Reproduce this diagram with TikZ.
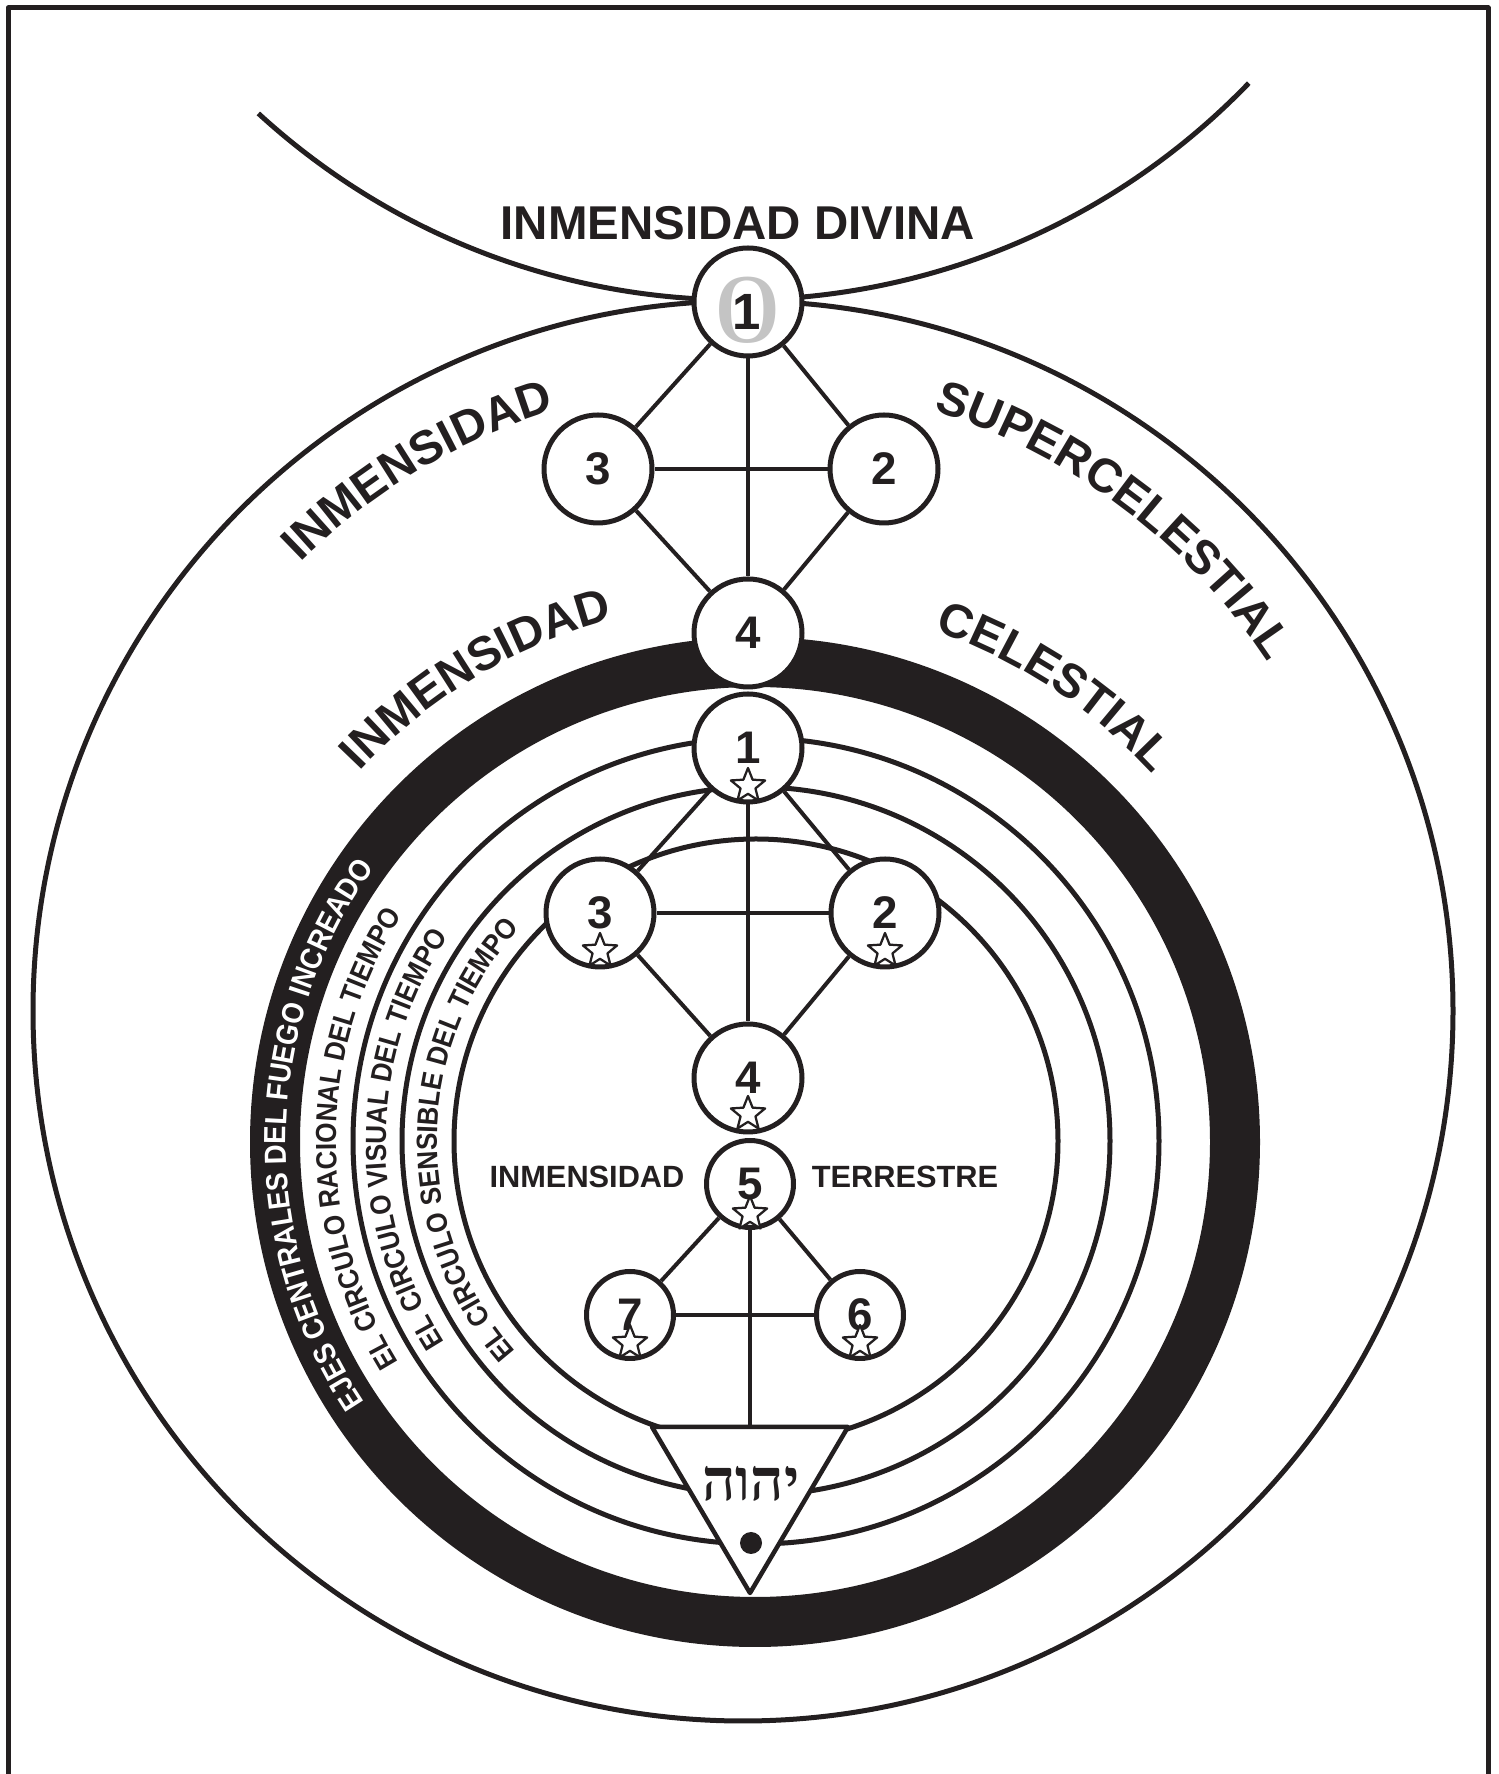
\documentclass[tikz,border=0pt]{standalone}
\usepackage{fontspec}
\usepackage{graphicx}
\setmainfont{Liberation Sans}
\newfontfamily\seriffont{Liberation Serif}
\newfontfamily\hebfont[Script=Hebrew]{Liberation Serif}
\newfontfamily\ringface[FakeStretch=0.9]{Liberation Sans}
\TeXXeTstate=1
\usetikzlibrary{positioning,shapes.geometric,calc,decorations.text}
\definecolor{Ink}{HTML}{231F20}
\definecolor{Ghost}{HTML}{C4C4C4}
\newcommand\headfont{\bfseries\fontsize{27}{27}\selectfont}
\newcommand\ringfont{\ringface\bfseries\fontsize{16.5}{16.5}\selectfont}
\newcommand\firefont{\ringface\bfseries\fontsize{17.4}{17.4}\selectfont}
\tikzset{
  sefira/.style={circle,draw=Ink,line width=1mm,fill=white,minimum size=21.6mm,inner sep=0pt,text=Ink,font=\bfseries\fontsize{26}{26}\selectfont},
  sefirasmall/.style={sefira,minimum size=17.4mm},
  starmark/.style={star,star points=5,star point ratio=2.3,draw=Ink,line width=0.45mm,fill=white,minimum size=7.2mm,inner sep=0pt},
  link/.style={draw=Ink,line width=0.8mm},
  orbit/.style={draw=Ink,line width=1mm},
  plainword/.style={text=Ink,inner sep=0pt,font=\bfseries\fontsize{17.5}{17.5}\selectfont},
}

\begin{document}
\begin{tikzpicture}[x=0.2mm,y=0.2mm,line join=round]
  \useasboundingbox (0,0) rectangle (1498,1774);
  % frame, divine arc and supercelestial circle
  \draw[orbit] (8,0) -- (8,1766) -- (1488,1766) -- (1488,0);
  \draw[orbit] (738,2184) ++(227.5:710) arc[start angle=227.5,end angle=316,radius=710];
  \draw[orbit] (743,763) circle[radius=710];
  % fire ring and the three circles of time
  \draw[Ink,line width=10mm] (755,632) circle[radius=480];
  \foreach \r in {403,354,302}
    \draw[orbit] (756,633) circle[radius=\r];

  % triangle
  \coordinate (tl) at (652,347);
  \coordinate (tr) at (848,347);
  \coordinate (tb) at (750,181);
  \coordinate (tritop) at (750,347);
  \draw[orbit,fill=white,line width=0.9mm] (tl) -- (tr) -- (tb) -- cycle;
  \node[text=Ink,font=\hebfont\bfseries\fontsize{33}{33}\selectfont] (yhwh) at (751,290) {\beginR יהוה\endR};
  \node[circle,fill=Ink,minimum size=4.4mm,inner sep=0pt] (seed) at (751,231) {};

  % sefirot
  \foreach \name/\x/\y/\d in {n3/598/1305/3,n2/884/1305/2,n4/748/1141/4,
      l1/748/1026/1,l3/600/861/3,l2/885/861/2,l4/748/696/4}
    \node[sefira] (\name) at (\x,\y) {\d};
  \foreach \name/\x/\y/\d in {l5/750/590/5,l7/630/459/7,l6/860/459/6}
    \node[sefirasmall] (\name) at (\x,\y) {\d};
  \node[sefira] (n1) at (748,1472) {};
  \node[text=Ghost,font=\seriffont\fontsize{56}{56}\selectfont] (n1ghost) at (748,1464) {\scalebox{1.35}[1]{0}};
  \node[text=Ink,font=\bfseries\fontsize{29}{29}\selectfont] (n1digit) at (747,1462) {1};

  \foreach \a/\b in {n1/n3,n1/n2,n1/n4,n3/n2,n3/n4,n2/n4,
      l1/l3,l1/l2,l1/l4,l3/l2,l3/l4,l2/l4,l5/l7,l5/l6,l7/l6}
    \draw[link] (\a) -- (\b);
  \draw[link] (l5) -- (tritop);

  \foreach \name/\d in {l1/38,l3/38,l2/38,l4/36,l5/30,l7/28,l6/28}
    \node[starmark] (\name-star) at ($(\name)+(0,-\d)$) {};

  % titles
  \node[plainword,font=\headfont] (divina) at (738,1551) {INMENSIDAD DIVINA};
  \node[plainword] (terrleft) at (587,597) {INMENSIDAD};
  \node[plainword] (terrright) at (905,597) {TERRESTRE};

  \path[decorate,decoration={text along path,text align=center,text color=Ink,text={|\headfont|INMENSIDAD}}]
    (743,763) ++(171:630) arc[start angle=171,end angle=71,radius=630];
  \path[decorate,decoration={text along path,text align=center,text color=Ink,text={|\headfont|SUPERCELESTIAL}}]
    (743,763) ++(113:630) arc[start angle=113,end angle=-7,radius=630];
  \path[decorate,decoration={text along path,text align=center,text color=Ink,text={|\headfont|INMENSIDAD}}]
    (755,632) ++(171:542) arc[start angle=171,end angle=71,radius=542];
  \path[decorate,decoration={text along path,text align=center,text color=Ink,text={|\headfont|CELESTIAL}}]
    (755,632) ++(106.7:542) arc[start angle=106.7,end angle=6.7,radius=542];

  \path[decorate,decoration={text along path,text align=center,text color=white,text={|\firefont|EJES CENTRALES DEL FUEGO INCREADO}}]
    (755,632) ++(239:469) arc[start angle=239,end angle=119,radius=469];
  \path[decorate,decoration={text along path,text align=center,text color=Ink,text={|\ringfont|EL CIRCULO RACIONAL DEL TIEMPO}}]
    (755,632) ++(239.5:419) arc[start angle=239.5,end angle=119.5,radius=419];
  \path[decorate,decoration={text along path,text align=center,text color=Ink,text={|\ringfont|EL CIRCULO VISUAL DEL TIEMPO}}]
    (755,632) ++(239.5:369) arc[start angle=239.5,end angle=119.5,radius=369];
  \path[decorate,decoration={text along path,text align=center,text color=Ink,text={|\ringfont|EL CIRCULO SENSIBLE DEL TIEMPO}}]
    (755,632) ++(239.5:318) arc[start angle=239.5,end angle=119.5,radius=318];
\end{tikzpicture}
\end{document}
